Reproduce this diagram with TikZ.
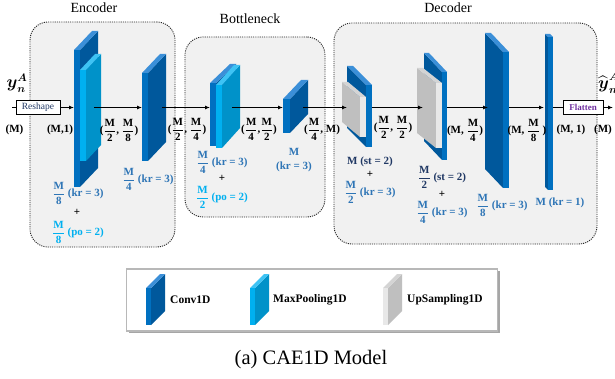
\documentclass[tikz,border=0pt]{standalone}
\usepackage{amsmath}
\usepackage{fontspec}
\setmainfont{Liberation Serif}
\usetikzlibrary{arrows.meta}
\definecolor{convF}{HTML}{0070C0}
\definecolor{convS}{HTML}{00589C}
\definecolor{convT}{HTML}{3B8FD8}
\definecolor{poolF}{HTML}{00B0F0}
\definecolor{poolS}{HTML}{0092C9}
\definecolor{poolT}{HTML}{3EC3F4}
\definecolor{upF}{HTML}{E8E8E8}
\definecolor{upS}{HTML}{BFBFBF}
\definecolor{upT}{HTML}{D4D4D4}
\definecolor{krC}{HTML}{2E75B6}
\definecolor{poC}{HTML}{00B0F0}
\definecolor{stC}{HTML}{203864}
\definecolor{boxF}{HTML}{F1F1F1}
\definecolor{flatC}{HTML}{7030A0}
\newcommand{\blkR}[7]{%
 \fill[#7S] (#2,#3) -- ({#2+(#5)},{#3+(#6)}) -- ({#2+(#5)},{#4+(#6)}) -- (#2,#4) -- cycle;
 \fill[#7T] (#1,#3) -- (#2,#3) -- ({#2+(#5)},{#3+(#6)}) -- ({#1+(#5)},{#3+(#6)}) -- cycle;
 \fill[#7F] (#1,#3) rectangle (#2,#4);
}
\newcommand{\blkL}[7]{%
 \fill[#7S] (#1,#3) -- ({#1+(#5)},{#3+(#6)}) -- ({#1+(#5)},{#4+(#6)}) -- (#1,#4) -- cycle;
 \fill[#7T] (#1,#3) -- (#2,#3) -- ({#2+(#5)},{#3+(#6)}) -- ({#1+(#5)},{#3+(#6)}) -- cycle;
 \fill[#7F] (#1,#3) rectangle (#2,#4);
}
\newcommand{\fr}[2]{$\dfrac{\textbf{#1}}{\textbf{#2}}$}
\tikzset{
 cont/.style={draw=black!85, fill=boxF, line width=0.9pt, dash pattern=on 1.1pt off 1.1pt, rounded corners=18pt},
 ttl/.style={font=\fontsize{14}{16}\selectfont, inner sep=0pt},
 lbl/.style={font=\bfseries\fontsize{11}{14}\selectfont, inner sep=0pt, align=center},
 kr/.style={lbl, text=krC},
 po/.style={lbl, text=poC},
 st/.style={lbl, text=stC},
 dimlbl/.style={lbl, text=black},
 plus/.style={lbl, text=black},
 opbox/.style={draw=black, fill=white, line width=0.8pt, minimum width=#1, minimum height=14pt, inner sep=0pt},
 arr/.style={line width=1pt, -{Latex[length=5pt,width=4pt]}},
 ln/.style={line width=1pt},
 legtxt/.style={font=\bfseries\fontsize{11.5}{13}\selectfont, inner sep=0pt, anchor=west},
}
\begin{document}
\begin{tikzpicture}[x=1pt,y=-1pt]
\useasboundingbox (0,0) rectangle (615,379);
% containers
\node[cont, minimum width=145pt, minimum height=225pt] (enc) at (102.5,134.5) {};
\node[cont, minimum width=140pt, minimum height=180pt] (bot) at (255,127) {};
\node[cont, minimum width=263pt, minimum height=221pt] (dec) at (465.5,133.5) {};
\node[ttl] (encT) at (94,8) {Encoder};
\node[ttl] (botT) at (250,19) {Bottleneck};
\node[ttl] (decT) at (448,8) {Decoder};
% blocks
\blkR{74}{80}{50}{187}{18}{-19}{conv}
\blkR{80}{86}{70}{161}{15}{-16}{pool}
\blkR{142}{148}{73}{161}{18}{-19}{conv}
\blkR{210}{216}{83}{146}{20}{-19}{conv}
\blkR{216}{222}{85}{148}{18}{-20}{pool}
\blkR{283}{290}{99}{133}{18}{-19}{conv}
\blkL{366}{372}{85}{147}{-19}{-19}{conv}
\blkL{360}{366}{97}{137}{-18}{-15}{up}
\blkL{442}{447}{72}{160}{-18}{-19}{conv}
\blkL{436}{442}{83}{148}{-19}{-15}{up}
\blkL{503}{509}{52}{188}{-18}{-19}{conv}
\blkL{548}{553}{37}{190}{-3}{-3}{conv}
% io nodes
\node[opbox=44pt, font=\fontsize{9.5}{10}\selectfont, text=stC] (reshape) at (38,107.5) {Reshape};
\node[opbox=40pt, font=\bfseries\fontsize{9}{10}\selectfont, text=flatC] (flatten) at (583,107.5) {Flatten};
\node[inner sep=0pt, font=\fontsize{16}{18}\selectfont] (yin) at (17,83) {$\boldsymbol{y}_{\boldsymbol{n}}^{\boldsymbol{A}}$};
\node[inner sep=0pt, anchor=west, font=\fontsize{16}{18}\selectfont] (yout) at (598,83) {$\widehat{\boldsymbol{y}}_{\boldsymbol{n}}^{\boldsymbol{A}}$};
% connector points
\coordinate (inL) at (12,107.5);
\coordinate (e1f) at (74,107.5);
\coordinate (e1o) at (94,107.5);
\coordinate (e2f) at (142,107.5);
\coordinate (e2o) at (162,107.5);
\coordinate (b1f) at (210,107.5);
\coordinate (b1o) at (232,107.5);
\coordinate (b2f) at (283,107.5);
\coordinate (b2o) at (303,107.5);
\coordinate (d1f) at (347,107.5);
\coordinate (d1o) at (372,107.5);
\coordinate (d2f) at (423,107.5);
\coordinate (d2o) at (447,107.5);
\coordinate (d3f) at (488,107.5);
\coordinate (d3o) at (509,107.5);
\coordinate (d4f) at (544,107.5);
\coordinate (d4o) at (553,107.5);
\coordinate (outR) at (613,107.5);
\draw[ln] (inL) -- (reshape);
\draw[arr] (reshape) -- (e1f);
\draw[arr] (e1o) -- (e2f);
\draw[arr] (e2o) -- (b1f);
\draw[arr] (b1o) -- (b2f);
\draw[arr] (b2o) -- (d1f);
\draw[arr] (d1o) -- (d2f);
\draw[arr] (d2o) -- (d3f);
\draw[arr] (d3o) -- (d4f);
\draw[ln] (d4o) -- (flatten);
\draw[arr] (flatten) -- (outR);
% dimension labels
\node[dimlbl] (dM) at (14.5,130) {(M)};
\node[dimlbl] (dM1) at (60,130) {(M,1)};
\node[dimlbl] (d28) at (119,130) {(\fr{M}{2}, \fr{M}{8})};
\node[dimlbl] (d24) at (187,129) {(\fr{M}{2}, \fr{M}{4})};
\node[dimlbl] (d42) at (259,129) {(\fr{M}{4},\fr{M}{2})};
\node[dimlbl] (d4M) at (322,129) {(\fr{M}{4}, M)};
\node[dimlbl] (d22) at (393,127) {(\fr{M}{2}, \fr{M}{2})};
\node[dimlbl] (dM4) at (465,130) {(M, \fr{M}{4})};
\node[dimlbl] (dM8) at (527,130) {(M, \fr{M}{8} )};
\node[dimlbl] (dM1b) at (571,129.5) {(M, 1)};
\node[dimlbl] (dMo) at (603,129.5) {(M)};
% layer labels
\node[kr] (e1a) at (78,193) {\fr{M}{8} (kr = 3)};
\node[plus] (e1p) at (77,212) {+};
\node[po] (e1b) at (78,232) {\fr{M}{8} (po = 2)};
\node[kr] (e2a) at (148,179) {\fr{M}{4} (kr = 3)};
\node[kr] (b1a) at (222,162) {\fr{M}{4} (kr = 3)};
\node[plus] (b1p) at (222,178) {+};
\node[po] (b1b) at (222,197) {\fr{M}{2} (po = 2)};
\node[kr] (b2a) at (294,160) {M\\(kr = 3)};
\node[st] (d1a) at (370,162) {M (st = 2)};
\node[plus] (d1p) at (370,174) {+};
\node[kr] (d1b) at (370,192) {\fr{M}{2} (kr = 3)};
\node[st] (d2a) at (442,177) {\fr{M}{2} (st = 2)};
\node[plus] (d2p) at (442,194) {+};
\node[kr] (d2b) at (442,212) {\fr{M}{4} (kr = 3)};
\node[kr] (d3a) at (502,205) {\fr{M}{8} (kr = 3)};
\node[kr] (d4a) at (560,203) {M (kr = 1)};
% legend
\fill[black!35] (128.5,270.5) rectangle (500,333);
\node[draw=black!28, fill=white, line width=1.2pt, minimum width=371pt, minimum height=62pt, inner sep=0pt] (legend) at (312,300) {};
\blkR{146}{151}{288}{325}{14}{-14}{conv}
\blkR{250}{255}{288}{325}{14}{-14}{pool}
\blkR{383}{388}{288}{325}{14}{-14}{up}
\node[legtxt] (lg1) at (170,300) {Conv1D};
\node[legtxt] (lg2) at (273,300) {MaxPooling1D};
\node[legtxt] (lg3) at (407,300) {UpSampling1D};
\node[font=\fontsize{20.5}{23}\selectfont, inner sep=0pt] (cap) at (311,360) {(a) CAE1D Model};
\end{tikzpicture}
\end{document}
